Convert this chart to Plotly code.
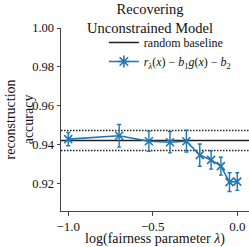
import plotly.graph_objects as go

# data
lambdas = [0.1, 0.2, 0.3, 0.4, 0.5, 0.6, 0.7, 0.8, 0.9, 1.0]
log_lambda = [-1.0, -0.699, -0.523, -0.398, -0.301, -0.222, -0.155, -0.097, -0.046, 0.0]
accuracy = [0.9430, 0.9447, 0.9419, 0.9414, 0.9419, 0.9348, 0.9323, 0.9291, 0.9209, 0.9212]
accuracy_err = [0.0034, 0.0058, 0.0052, 0.0055, 0.0056, 0.0057, 0.0047, 0.0046, 0.0048, 0.0045]
baseline_mean = 0.9423
baseline_std = 0.0051
x_ticks = [-1.0, -0.5, 0.0]
y_ticks = [0.92, 0.94, 0.96, 0.98, 1.00]

BLUE = "#1f77b4"
FONT = "Liberation Serif"

fig = go.Figure()

# legend-only entry for baseline
fig.add_trace(go.Scatter(
    x=[None], y=[None], mode="lines", name="random baseline",
    line=dict(color="#222222", width=1.6),
))

# main series
fig.add_trace(go.Scatter(
    x=log_lambda, y=accuracy, mode="lines+markers",
    line=dict(color=BLUE, width=1.6),
    marker=dict(symbol="x-thin-open", size=8, color=BLUE, line=dict(color=BLUE, width=1.6)),
    error_y=dict(type="data", array=accuracy_err, color=BLUE, thickness=1.4, width=2),
    showlegend=False,
))

# legend entry for series (asterisk mimics marker + errorbar)
fig.add_trace(go.Scatter(
    x=[None], y=[None], mode="lines+markers",
    name="<i>r</i><sub><i>λ</i></sub>(<i>x</i>) − <i>b</i><sub>1</sub><i>g</i>(<i>x</i>) − <i>b</i><sub>2</sub>",
    line=dict(color=BLUE, width=1.6),
    marker=dict(symbol="asterisk-open", size=10, color=BLUE, line=dict(color=BLUE, width=1.6)),
))

# baseline lines
fig.add_hline(y=baseline_mean, line=dict(color="#222222", width=1.6), layer="below")
fig.add_hline(y=baseline_mean + baseline_std, line=dict(color="#222222", width=1.5, dash="1.5px,1.5px"), layer="below")
fig.add_hline(y=baseline_mean - baseline_std, line=dict(color="#222222", width=1.5, dash="1.5px,1.5px"), layer="below")

fig.update_layout(
    width=249, height=247,
    margin=dict(l=61, r=0, t=28, b=34, pad=0),
    paper_bgcolor="white", plot_bgcolor="white",
    font=dict(family=FONT, size=12.5, color="#111111"),
    legend=dict(
        x=0.228, y=1.0, xanchor="left", yanchor="top",
        font=dict(family=FONT, size=12, color="#111111"),
        bgcolor="rgba(0,0,0,0)", borderwidth=0,
        itemwidth=30, tracegroupgap=0,
    ),
    xaxis=dict(
        range=[-1.043, 0.0694], tickvals=x_ticks, tickformat=".1f",
        showgrid=False, zeroline=False, showline=True, linecolor="#444444", linewidth=1,
        ticks="outside", ticklen=3.5, tickcolor="#444444", tickwidth=1,
        tickfont=dict(size=13),
        title=dict(text="log(fairness parameter <i>λ</i>)", font=dict(size=14), standoff=3),
    ),
    yaxis=dict(
        range=[0.9061, 1.0], tickvals=y_ticks, tickformat=".2f",
        showgrid=False, zeroline=False, showline=True, linecolor="#444444", linewidth=1,
        ticks="outside", ticklen=3.5, tickcolor="#444444", tickwidth=1,
        tickfont=dict(size=12.5),
    ),
    annotations=[
        dict(
            text="reconstruction<br>accuracy", textangle=-90,
            xref="paper", yref="paper", x=(19 - 61) / 188, y=0.5,
            xanchor="center", yanchor="middle", showarrow=False,
            font=dict(family=FONT, size=14, color="#111111"),
        ),
        dict(
            text="Recovering<br>Unconstrained Model",
            xref="paper", yref="paper", x=0.474, y=1 + (28 - 18) / 185,
            xanchor="center", yanchor="middle", showarrow=False,
            font=dict(family=FONT, size=14.5, color="#111111"),
        ),
    ],
)

fig.write_html("out.html", config={"displayModeBar": False},
               post_script="document.body.style.margin='0';")
